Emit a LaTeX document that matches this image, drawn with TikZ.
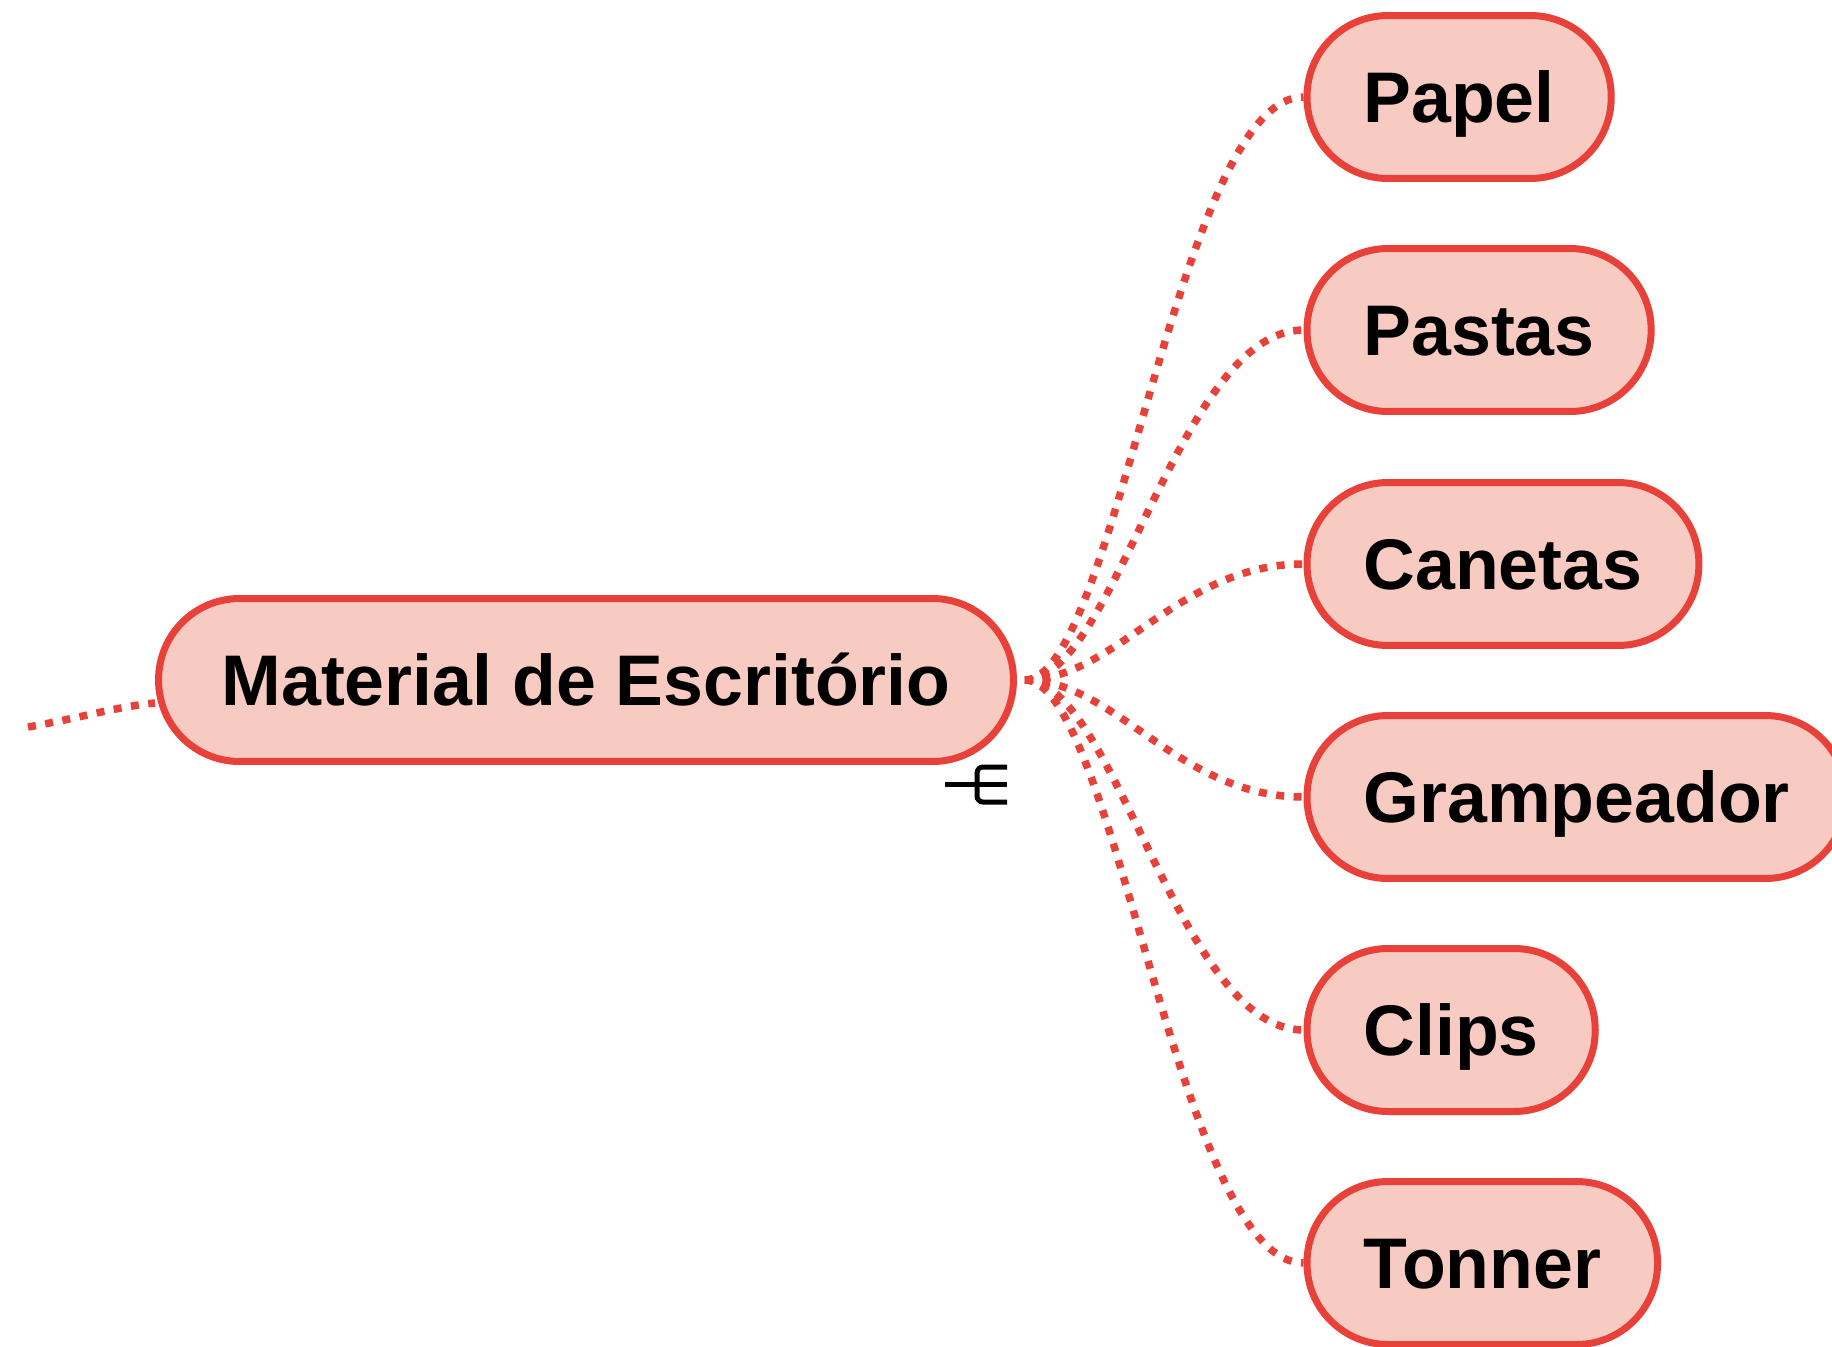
\documentclass[tikz,border=0pt]{standalone}
\usepackage{fontspec}
\setmainfont{Liberation Sans}
\definecolor{topicred}{HTML}{E8413A}
\definecolor{topicfill}{HTML}{F7CBC2}
\tikzset{
  topic/.style={draw=topicred, fill=topicfill, line width=0.14cm,
    rounded corners=1.62cm, minimum height=3.26cm, inner ysep=0pt,
    inner xsep=1.13cm, text height=1.026cm, text depth=0pt,
    font=\fontsize{40.8}{48}\selectfont\bfseries},
  child/.style={topic, anchor=west},
  link/.style={draw=topicred, line width=0.15cm, dash pattern=on 0.16cm off 0.19cm},
  collapse/.style={draw=black, line width=0.1cm}
}
\begin{document}
\begin{tikzpicture}[x=0.02cm, y=-0.02cm]
\useasboundingbox (0,0) rectangle (1832,1346);
\clip (0,0) rectangle (1832,1346);

% central topic
\node[topic, minimum width=17.1cm] (main) at (586,680)
  {Material de Escritório\hspace{0.24cm}};

% subtopics
\node[child] (papel)  at (1303.5,97)   {Papel};
\node[child] (pastas) at (1303.5,330)  {Pastas};
\node[child] (canetas) at (1303.5,564) {Canetas};
\node[child] (gramp)  at (1303.5,797)  {Grampeador};
\node[child] (clips)  at (1303.5,1030) {Clips};
\node[child] (tonner) at (1303.5,1263) {Tonner};

% incoming branch from the parent
\coordinate (tail) at (28,727);
\draw[link] (tail) .. controls (75,719) and (120,706) .. ([yshift=-0.46cm]main.west);

% branches to the subtopics
\foreach \c in {papel,pastas,canetas,gramp,clips,tonner}
  \draw[link] ([xshift=0.16cm]main.east) .. controls +(90,0) and +(-125,0) .. (\c.west);

% collapse marker under the central topic
\draw[collapse] (945,784) -- (1007,784);
\draw[collapse, rounded corners=0.12cm] (1007,767) -- (977,767) -- (977,802) -- (1007,802);
\end{tikzpicture}
\end{document}
